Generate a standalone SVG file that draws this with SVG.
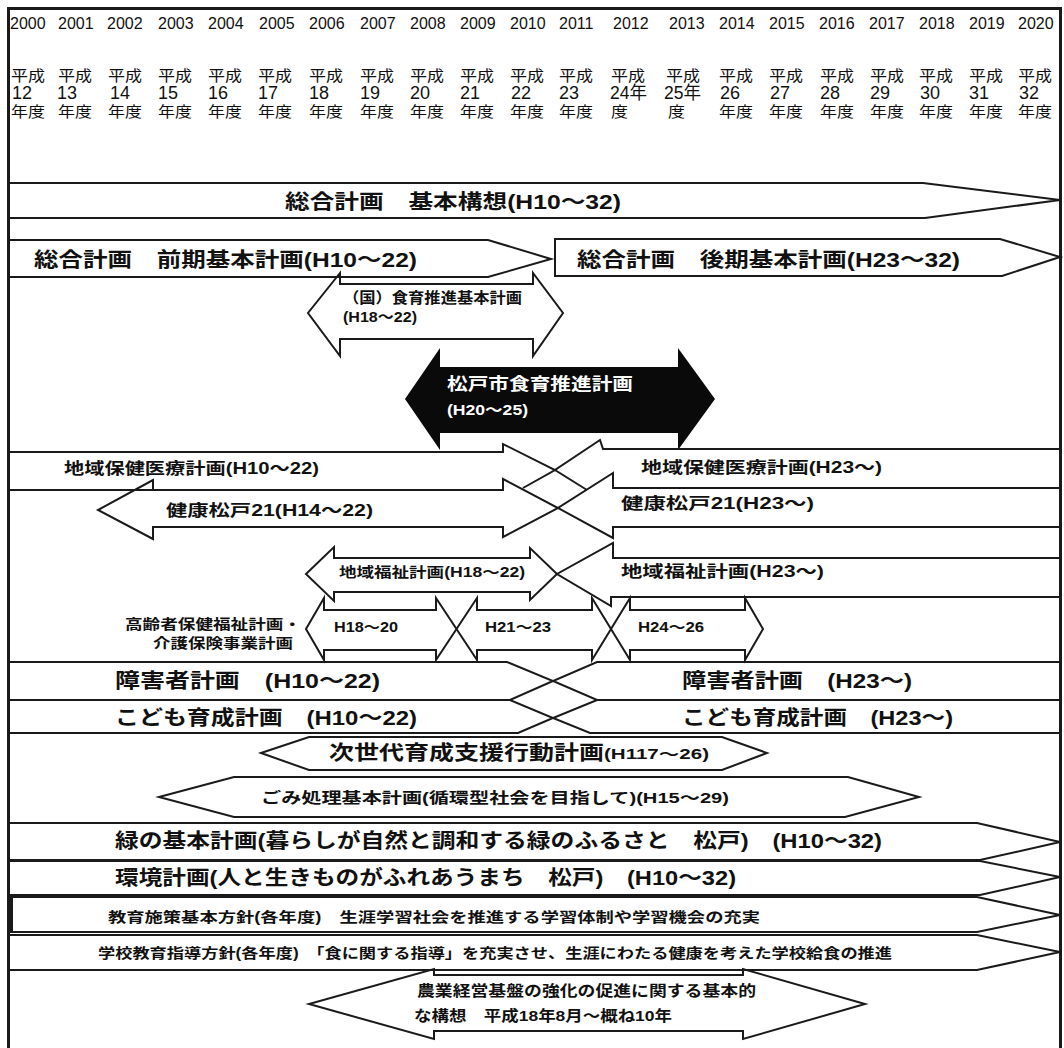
<svg xmlns="http://www.w3.org/2000/svg" width="1064" height="1048" viewBox="0 0 1064 1048">
<style>
.s{fill:none;stroke:#1a1a1a;stroke-width:2;stroke-linejoin:miter}
.t{font-family:"Liberation Sans","Noto Sans CJK JP",sans-serif;fill:#111;font-weight:bold}
.h{font-family:"Liberation Sans","Noto Sans CJK JP",sans-serif;fill:#111;font-weight:normal}
.y{font-size:16px}
.k{font-size:15px}
.n{font-size:18px}
.f20{font-size:20px}
.f17{font-size:17px}
.f16{font-size:16px}
.f15{font-size:15px}
.f14{font-size:14px}
.w{fill:#fff}
</style>
<rect width="1064" height="1048" fill="#fff"/>
<g id="frame"><path class="s" style="stroke-width:3" d="M8.5,1048 V8.5 H1060.5 V1048"/></g>
<g id="header">
<g class="h y">
<text x="10" y="29">2000</text><text x="58" y="29">2001</text><text x="107" y="29">2002</text><text x="158" y="29">2003</text><text x="208" y="29">2004</text><text x="259" y="29">2005</text><text x="309" y="29">2006</text><text x="360" y="29">2007</text><text x="410" y="29">2008</text><text x="460" y="29">2009</text><text x="510" y="29">2010</text><text x="559" y="29">2011</text><text x="613" y="29">2012</text><text x="669" y="29">2013</text><text x="719" y="29">2014</text><text x="769" y="29">2015</text><text x="819" y="29">2016</text><text x="869" y="29">2017</text><text x="919" y="29">2018</text><text x="969" y="29">2019</text><text x="1018" y="29">2020</text>
</g>
<g class="h k">
<text x="11" y="81" textLength="34" lengthAdjust="spacingAndGlyphs">平成</text><text x="58" y="81" textLength="34" lengthAdjust="spacingAndGlyphs">平成</text><text x="108" y="81" textLength="34" lengthAdjust="spacingAndGlyphs">平成</text><text x="158" y="81" textLength="34" lengthAdjust="spacingAndGlyphs">平成</text><text x="208" y="81" textLength="34" lengthAdjust="spacingAndGlyphs">平成</text><text x="258" y="81" textLength="34" lengthAdjust="spacingAndGlyphs">平成</text><text x="309" y="81" textLength="34" lengthAdjust="spacingAndGlyphs">平成</text><text x="360" y="81" textLength="34" lengthAdjust="spacingAndGlyphs">平成</text><text x="410" y="81" textLength="34" lengthAdjust="spacingAndGlyphs">平成</text><text x="460" y="81" textLength="34" lengthAdjust="spacingAndGlyphs">平成</text><text x="510" y="81" textLength="34" lengthAdjust="spacingAndGlyphs">平成</text><text x="559" y="81" textLength="34" lengthAdjust="spacingAndGlyphs">平成</text><text x="611" y="81" textLength="34" lengthAdjust="spacingAndGlyphs">平成</text><text x="666" y="81" textLength="34" lengthAdjust="spacingAndGlyphs">平成</text><text x="719" y="81" textLength="34" lengthAdjust="spacingAndGlyphs">平成</text><text x="769" y="81" textLength="34" lengthAdjust="spacingAndGlyphs">平成</text><text x="820" y="81" textLength="34" lengthAdjust="spacingAndGlyphs">平成</text><text x="870" y="81" textLength="34" lengthAdjust="spacingAndGlyphs">平成</text><text x="919" y="81" textLength="34" lengthAdjust="spacingAndGlyphs">平成</text><text x="969" y="81" textLength="34" lengthAdjust="spacingAndGlyphs">平成</text><text x="1018" y="81" textLength="34" lengthAdjust="spacingAndGlyphs">平成</text>
</g>
<g class="h n">
<text x="12" y="99">12</text><text x="57" y="99">13</text><text x="110" y="99">14</text><text x="158" y="99">15</text><text x="208" y="99">16</text><text x="258" y="99">17</text><text x="309" y="99">18</text><text x="360" y="99">19</text><text x="410" y="99">20</text><text x="460" y="99">21</text><text x="511" y="99">22</text><text x="559" y="99">23</text><text x="610" y="99" textLength="37" lengthAdjust="spacingAndGlyphs">24年</text><text x="664" y="99" textLength="37" lengthAdjust="spacingAndGlyphs">25年</text><text x="720" y="99">26</text><text x="770" y="99">27</text><text x="820" y="99">28</text><text x="870" y="99">29</text><text x="920" y="99">30</text><text x="969" y="99">31</text><text x="1019" y="99">32</text>
</g>
<g class="h k">
<text x="11" y="117" textLength="34" lengthAdjust="spacingAndGlyphs">年度</text><text x="58" y="117" textLength="34" lengthAdjust="spacingAndGlyphs">年度</text><text x="108" y="117" textLength="34" lengthAdjust="spacingAndGlyphs">年度</text><text x="158" y="117" textLength="34" lengthAdjust="spacingAndGlyphs">年度</text><text x="208" y="117" textLength="34" lengthAdjust="spacingAndGlyphs">年度</text><text x="258" y="117" textLength="34" lengthAdjust="spacingAndGlyphs">年度</text><text x="309" y="117" textLength="34" lengthAdjust="spacingAndGlyphs">年度</text><text x="360" y="117" textLength="34" lengthAdjust="spacingAndGlyphs">年度</text><text x="410" y="117" textLength="34" lengthAdjust="spacingAndGlyphs">年度</text><text x="460" y="117" textLength="34" lengthAdjust="spacingAndGlyphs">年度</text><text x="510" y="117" textLength="34" lengthAdjust="spacingAndGlyphs">年度</text><text x="559" y="117" textLength="34" lengthAdjust="spacingAndGlyphs">年度</text><text x="611" y="117" textLength="17" lengthAdjust="spacingAndGlyphs">度</text><text x="668" y="117" textLength="17" lengthAdjust="spacingAndGlyphs">度</text><text x="719" y="117" textLength="34" lengthAdjust="spacingAndGlyphs">年度</text><text x="769" y="117" textLength="34" lengthAdjust="spacingAndGlyphs">年度</text><text x="820" y="117" textLength="34" lengthAdjust="spacingAndGlyphs">年度</text><text x="870" y="117" textLength="34" lengthAdjust="spacingAndGlyphs">年度</text><text x="919" y="117" textLength="34" lengthAdjust="spacingAndGlyphs">年度</text><text x="969" y="117" textLength="34" lengthAdjust="spacingAndGlyphs">年度</text><text x="1018" y="117" textLength="34" lengthAdjust="spacingAndGlyphs">年度</text>
</g>
</g>
<g id="sogo-kihonkoso"><path class="s" d="M8,183 H923 L1060,200 L925,218 H8"/><text class="t f20" x="285" y="209" textLength="336" lengthAdjust="spacingAndGlyphs">総合計画　基本構想(H10～32)</text></g>
<g id="sogo-zenki"><path class="s" d="M8,240 H488 L551,259 L488,277 H8"/><text class="t f20" x="34" y="267" textLength="383" lengthAdjust="spacingAndGlyphs">総合計画　前期基本計画(H10～22)</text></g>
<g id="sogo-kouki"><path class="s" d="M555,239 H1000 L1060,257 L1002,276 H555 Z"/><text class="t f20" x="577" y="267" textLength="383" lengthAdjust="spacingAndGlyphs">総合計画　後期基本計画(H23～32)</text></g>
<g id="kuni-shokuiku"><path class="s" d="M340,284 H533 V273 L563,313 L533,356 V339 H340 V356 L308,313 L340,273 Z"/><text class="t f15" x="343" y="303" textLength="179" lengthAdjust="spacingAndGlyphs">（国）食育推進基本計画</text><text class="t f15" x="343" y="322" textLength="74" lengthAdjust="spacingAndGlyphs">(H18～22)</text></g>
<g id="matsudo-shokuiku"><path d="M440,367 H678 V348 L715,399 L678,450 V433 H440 V450 L405,399 L440,348 Z" fill="#0a0a0a"/><text class="t f17 w" x="447" y="390" textLength="186" lengthAdjust="spacingAndGlyphs">松戸市食育推進計画</text><text class="t f15 w" x="447" y="415" textLength="81" lengthAdjust="spacingAndGlyphs">(H20～25)</text></g>
<g id="chiiki-hoken-old"><path class="s" d="M8,452 H503 V444 L555,470 L523,488 M8,490 H503"/><text class="t f16" x="64" y="474" textLength="255" lengthAdjust="spacingAndGlyphs">地域保健医療計画(H10～22)</text></g>
<g id="chiiki-hoken-new"><path class="s" d="M1060,449 H603 L600,440 L555,470 L587,490"/><text class="t f16" x="641" y="473" textLength="241" lengthAdjust="spacingAndGlyphs">地域保健医療計画(H23～)</text></g>
<g id="kenko-old"><path class="s" d="M503,490 H153 V480 L98,510 L153,539 V527 H503 V537 L558,508 L503,479 Z"/><text class="t f16" x="166" y="516" textLength="207" lengthAdjust="spacingAndGlyphs">健康松戸21(H14～22)</text></g>
<g id="kenko-new"><path class="s" d="M1060,488 H613 V473 L558,508 L613,538 V527 H1060"/><text class="t f16" x="621" y="509" textLength="193" lengthAdjust="spacingAndGlyphs">健康松戸21(H23～)</text></g>
<g id="fukushi-old"><path class="s" d="M334,558 H530 V548 L557,574 L530,600 V592 H334 V601 L306,574 L334,547 Z"/><text class="t f14" x="339" y="577" textLength="186" lengthAdjust="spacingAndGlyphs">地域福祉計画(H18～22)</text></g>
<g id="fukushi-new"><path class="s" d="M1060,558 H613 V543 L557,574 L611,606 V597 H1060"/><text class="t f16" x="621" y="577" textLength="203" lengthAdjust="spacingAndGlyphs">地域福祉計画(H23～)</text></g>
<g id="koureisha-label"><text class="t f14" x="301" y="629" text-anchor="end" textLength="176" lengthAdjust="spacingAndGlyphs">高齢者保健福祉計画・</text><text class="t f14" x="293" y="648" text-anchor="end" textLength="140" lengthAdjust="spacingAndGlyphs">介護保険事業計画</text></g>
<g id="koureisha-h18"><path class="s" d="M324,610 H436 V598 L456.5,629 L436,660 V650 H324 V660 L306,629 L324,598 Z"/><text class="t f14" x="334" y="632" textLength="64" lengthAdjust="spacingAndGlyphs">H18～20</text></g>
<g id="koureisha-h21"><path class="s" d="M477,610 H592 V598 L611,629 L592,660 V650 H477 V660 L456.5,629 L477,598 Z"/><text class="t f14" x="485" y="632" textLength="66" lengthAdjust="spacingAndGlyphs">H21～23</text></g>
<g id="koureisha-h24"><path class="s" d="M630,610 H745 V598 L763,629 L745,660 V650 H630 V660 L611,629 L630,598 Z"/><text class="t f14" x="638" y="632" textLength="66" lengthAdjust="spacingAndGlyphs">H24～26</text></g>
<g id="shogai-old"><path class="s" d="M8,662 H507 L553,681 L510,700 H8"/><text class="t f20" x="115" y="688" textLength="265" lengthAdjust="spacingAndGlyphs">障害者計画　(H10～22)</text></g>
<g id="shogai-new"><path class="s" d="M1060,662 H597 L553,681 L597,700 H1060"/><text class="t f20" x="682" y="688" textLength="230" lengthAdjust="spacingAndGlyphs">障害者計画　(H23～)</text></g>
<g id="kodomo-old"><path class="s" d="M8,700 H510 L553,718 L518,733 H8"/><text class="t f20" x="115" y="725" textLength="302" lengthAdjust="spacingAndGlyphs">こども育成計画　(H10～22)</text></g>
<g id="kodomo-new"><path class="s" d="M1060,700 H597 L553,718 L590,733 H1060"/><text class="t f20" x="682" y="725" textLength="271" lengthAdjust="spacingAndGlyphs">こども育成計画　(H23～)</text></g>
<g id="jisedai"><path class="s" d="M261,753 L309,737 H722 L767,753 L722,770 H309 Z"/><text class="t f20" x="329" y="760" textLength="275" lengthAdjust="spacingAndGlyphs">次世代育成支援行動計画</text><text class="t f14" x="604" y="759" textLength="105" lengthAdjust="spacingAndGlyphs">(H117～26)</text></g>
<g id="gomi"><path class="s" d="M159,797 L234,777 H848 L919,797 L845,817 H234 Z"/><text class="t f15" x="261" y="803" textLength="468" lengthAdjust="spacingAndGlyphs">ごみ処理基本計画(循環型社会を目指して)(H15～29)</text></g>
<g id="midori"><path class="s" d="M8,823 H977 L1060,842 L980,860 H8"/><text class="t f20" x="115" y="848" textLength="767" lengthAdjust="spacingAndGlyphs">緑の基本計画(暮らしが自然と調和する緑のふるさと　松戸)　(H10～32)</text></g>
<g id="kankyo"><path class="s" d="M8,861 H980 L1060,877 L980,895 H8"/><text class="t f20" x="115" y="885" textLength="621" lengthAdjust="spacingAndGlyphs">環境計画(人と生きものがふれあうまち　松戸)　(H10～32)</text></g>
<g id="kyoiku-shisaku"><path class="s" d="M8,897 H977 L1060,915 L977,932 H8"/><path class="s" style="stroke-width:5" d="M10.5,897 V932"/><text class="t f14" x="108" y="922" textLength="652" lengthAdjust="spacingAndGlyphs">教育施策基本方針(各年度)　生涯学習社会を推進する学習体制や学習機会の充実</text></g>
<g id="gakko-kyoiku"><path class="s" d="M8,935 H977 L1060,952 L977,970 H8"/><text class="t f14" x="98" y="958" textLength="794" lengthAdjust="spacingAndGlyphs">学校教育指導方針(各年度)　「食に関する指導」を充実させ、生涯にわたる健康を考えた学校給食の推進</text></g>
<g id="nogyo"><path class="s" d="M434,975 H743 V969 L865,1004 L743,1039 V1031 H434 V1039 L309,1004 L434,969 Z"/><text class="t f15" x="417" y="996" textLength="339" lengthAdjust="spacingAndGlyphs">農業経営基盤の強化の促進に関する基本的</text><text class="t f15" x="414" y="1021" textLength="258" lengthAdjust="spacingAndGlyphs">な構想　平成18年8月～概ね10年</text></g>
<g id="connectors"></g>
</svg>
